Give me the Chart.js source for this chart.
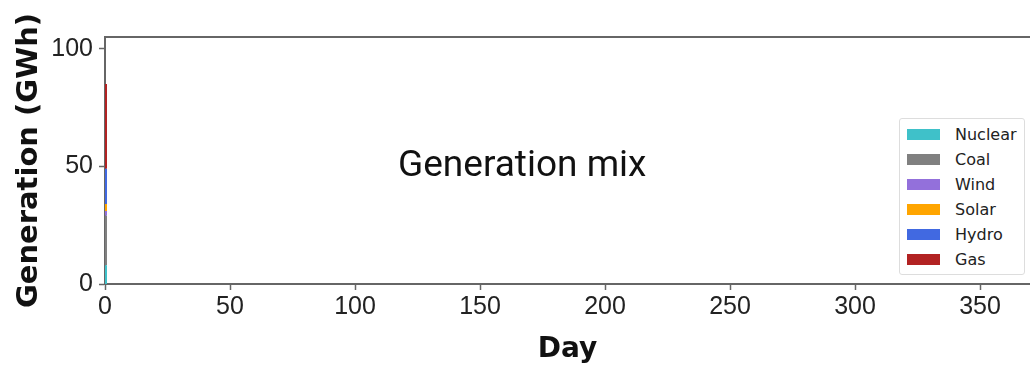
<!DOCTYPE html>
<html>
<head>
<meta charset="utf-8">
<script src="https://cdn.jsdelivr.net/npm/chart.js@4"></script>
<style>
  html, body { margin: 0; padding: 0; background: #fff; overflow: hidden; }
  #wrap { position: relative; width: 1030px; height: 365px; }
  #mix { position: absolute; left: 398px; top: 145px; font: 37px/37px Roboto, sans-serif; color: #111; white-space: nowrap; }
  #legend { position: absolute; left: 899px; top: 118px; width: 126px; height: 157px; border: 1px solid #ddd; border-radius: 3px; background: #fff; box-sizing: border-box; padding-top: 3px; }
  .row { display: flex; align-items: center; height: 25px; font: 16px "DejaVu Sans", sans-serif; color: #222; }
  .sw { width: 33px; height: 11px; margin-left: 7px; margin-right: 15px; }
</style>
</head>
<body>
<div id="wrap">
  <canvas id="c" width="1030" height="365"></canvas>
  <div id="mix">Generation mix</div>
  <div id="legend"></div>
</div>
<script>
// data: only the first day carries generation
const days = [0, 0.8];
const sources = ['Nuclear', 'Coal', 'Wind', 'Solar', 'Hydro', 'Gas'];
const nuclear = [8, 8];
const coal = [21, 21];
const wind = [2, 2];
const solar = [3, 3];
const hydro = [15, 15];
const gas = [36, 36];
const colors = ['#3fc1c9', '#808080', '#9370db', '#ffa500', '#4169e1', '#b22222'];
const xTicks = [0, 50, 100, 150, 200, 250, 300, 350];
const yTicks = [0, 50, 100];

const values = [nuclear, coal, wind, solar, hydro, gas];
const datasets = sources.map((name, i) => ({
  label: name,
  data: days.map((d, j) => ({ x: d, y: values[i][j] })),
  backgroundColor: colors[i],
  borderColor: colors[i],
  borderWidth: 0,
  pointRadius: 0,
  fill: i === 0 ? 'origin' : '-1'
}));

// html legend built from the same arrays
const legend = document.getElementById('legend');
sources.forEach((name, i) => {
  const row = document.createElement('div');
  row.className = 'row';
  row.innerHTML = `<span class="sw" style="background:${colors[i]}"></span>${name}`;
  legend.appendChild(row);
});

const topLine = {
  id: 'topLine',
  afterDraw(chart) {
    const { ctx, chartArea } = chart;
    ctx.save();
    ctx.strokeStyle = '#666';
    ctx.lineWidth = 2;
    ctx.beginPath();
    ctx.moveTo(chartArea.left - 1, chartArea.top);
    ctx.lineTo(chartArea.right, chartArea.top);
    ctx.stroke();
    ctx.restore();
  }
};

const tickFont = { family: '"Liberation Sans", Arial, sans-serif', size: 25 };

new Chart(document.getElementById('c'), {
  type: 'line',
  data: { datasets },
  plugins: [topLine],
  options: {
    responsive: false,
    animation: false,
    layout: { padding: { top: 37, left: 4, right: 0, bottom: 0 } },
    plugins: { legend: { display: false }, tooltip: { enabled: false } },
    scales: {
      x: {
        type: 'linear',
        min: 0,
        max: 370,
        afterFit: s => { s.height = 81; },
        afterBuildTicks: s => { s.ticks = xTicks.map(v => ({ value: v })); },
        ticks: { font: tickFont, color: '#222', autoSkip: false, maxRotation: 0, padding: 2 },
        grid: { display: true, drawOnChartArea: false, tickLength: 6, color: '#666', tickWidth: 1.5 },
        border: { color: '#666', width: 2 },
        title: { display: true, text: 'Day', font: { family: '"DejaVu Sans", sans-serif', size: 28, weight: 'bold', lineHeight: 1.1 }, color: '#111', padding: { top: 0, bottom: 0 } }
      },
      y: {
        stacked: true,
        min: 0,
        max: 105,
        afterFit: s => { s.width = 101; },
        afterBuildTicks: s => { s.ticks = yTicks.map(v => ({ value: v })); },
        ticks: { font: tickFont, color: '#222', padding: 6 },
        grid: { display: true, drawOnChartArea: false, tickLength: 6, color: '#666', tickWidth: 1.5 },
        border: { color: '#666', width: 2 },
        title: { display: true, text: 'Generation (GWh)', font: { family: '"DejaVu Sans", sans-serif', size: 29, weight: 'bold' }, color: '#111', padding: { top: 8, bottom: 0 } }
      }
    }
  }
});
</script>
</body>
</html>
